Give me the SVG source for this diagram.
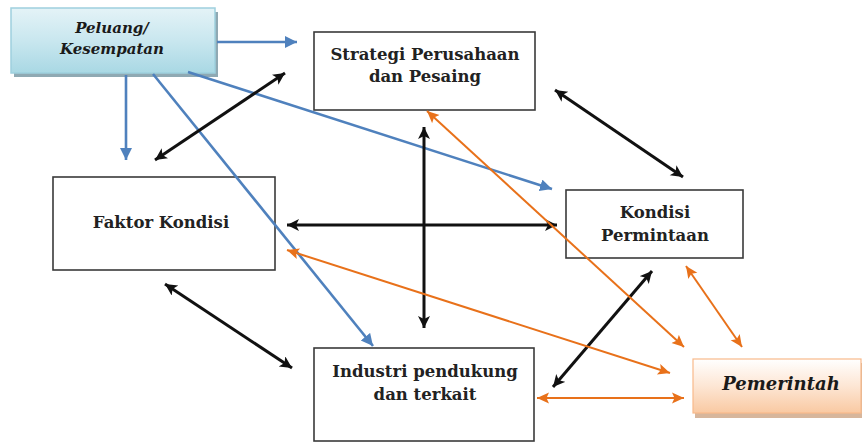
<svg xmlns="http://www.w3.org/2000/svg" width="862" height="442" viewBox="0 0 862 442">
<style>
.box{fill:#fff;stroke:#3a3a3a;stroke-width:1.6}
.t{font-family:"DejaVu Serif","Liberation Serif",serif;font-weight:bold;font-size:16.5px;fill:#222;text-anchor:middle}
.ti{font-family:"DejaVu Serif","Liberation Serif",serif;font-weight:bold;font-style:italic;fill:#1a1a1a;text-anchor:middle}
.k{stroke:#111;stroke-width:3;fill:none;marker-start:url(#hk);marker-end:url(#hk)}
.b{stroke:#4F81BD;stroke-width:2.6;fill:none;marker-end:url(#hb)}
.o{stroke:#E8711A;stroke-width:2;fill:none;marker-start:url(#ho);marker-end:url(#ho)}
</style>
<defs>
<marker id="hk" markerUnits="userSpaceOnUse" markerWidth="14" markerHeight="14" refX="12" refY="6" orient="auto-start-reverse"><path d="M0,0 L12,6 L0,12 L3,6 Z" fill="#111"/></marker>
<marker id="hb" markerUnits="userSpaceOnUse" markerWidth="14" markerHeight="14" refX="12" refY="6" orient="auto-start-reverse"><path d="M0,0 L12,6 L0,12 Z" fill="#4F81BD"/></marker>
<marker id="ho" markerUnits="userSpaceOnUse" markerWidth="14" markerHeight="14" refX="12" refY="6" orient="auto-start-reverse"><path d="M0,0.5 L12,6 L0,11.5 L2.5,6 Z" fill="#E8711A"/></marker>
<linearGradient id="gb" x1="0" y1="0" x2="0" y2="1"><stop offset="0" stop-color="#E4F3F7"/><stop offset="0.5" stop-color="#C9E7EF"/><stop offset="1" stop-color="#A9D8E4"/></linearGradient>
<linearGradient id="go" x1="0" y1="0" x2="0" y2="1"><stop offset="0" stop-color="#FFFFFF"/><stop offset="0.5" stop-color="#FDE6D4"/><stop offset="1" stop-color="#F9C9A2"/></linearGradient>
</defs>

<g id="peluang">
<rect x="14" y="12" width="204" height="65" fill="#8FA9B3"/>
<rect x="11" y="8" width="204" height="65" fill="url(#gb)" stroke="#9ED0DE" stroke-width="1.5"/>
<text class="ti" x="112" y="33" font-size="15">Peluang/</text>
<text class="ti" x="112" y="54" font-size="15">Kesempatan</text>
</g>

<g id="strategi">
<rect class="box" x="314" y="32" width="221" height="78"/>
<text class="t" x="425" y="60">Strategi Perusahaan</text>
<text class="t" x="425" y="82">dan Pesaing</text>
</g>

<g id="faktor">
<rect class="box" x="53" y="177" width="222" height="93"/>
<text class="t" x="161" y="228">Faktor Kondisi</text>
</g>

<g id="kondisi">
<rect class="box" x="566" y="190" width="177" height="68"/>
<text class="t" x="655" y="218">Kondisi</text>
<text class="t" x="655" y="241">Permintaan</text>
</g>

<g id="industri">
<rect class="box" x="314" y="348" width="220" height="93"/>
<text class="t" x="425" y="377">Industri pendukung</text>
<text class="t" x="425" y="400">dan terkait</text>
</g>

<g id="pemerintah">
<rect x="695" y="363" width="167" height="55" fill="#D7B69C"/>
<rect x="693" y="359" width="168" height="54" fill="url(#go)" stroke="#F8B98A" stroke-width="1.2"/>
<text class="ti" x="781" y="390" font-size="18">Pemerintah</text>
</g>

<g id="connectors">
<line class="b" x1="217" y1="42" x2="297" y2="42"/>
<line class="b" x1="126" y1="75" x2="126" y2="160"/>
<line class="b" x1="153" y1="74" x2="373" y2="346"/>
<line class="b" x1="188" y1="72" x2="552" y2="189"/>
<line class="k" x1="155" y1="160" x2="285" y2="73"/>
<line class="k" x1="555" y1="90" x2="683" y2="177"/>
<line class="k" x1="287" y1="225" x2="557" y2="225"/>
<line class="k" x1="424" y1="127" x2="424" y2="328"/>
<line class="k" x1="165" y1="284" x2="292" y2="368"/>
<line class="k" x1="652" y1="271" x2="553" y2="387"/>
<line class="o" x1="427" y1="111" x2="684" y2="347"/>
<line class="o" x1="287" y1="250" x2="670" y2="373"/>
<line class="o" x1="686" y1="266" x2="742" y2="347"/>
<line class="o" x1="537" y1="398" x2="684" y2="398"/>
</g>
</svg>
